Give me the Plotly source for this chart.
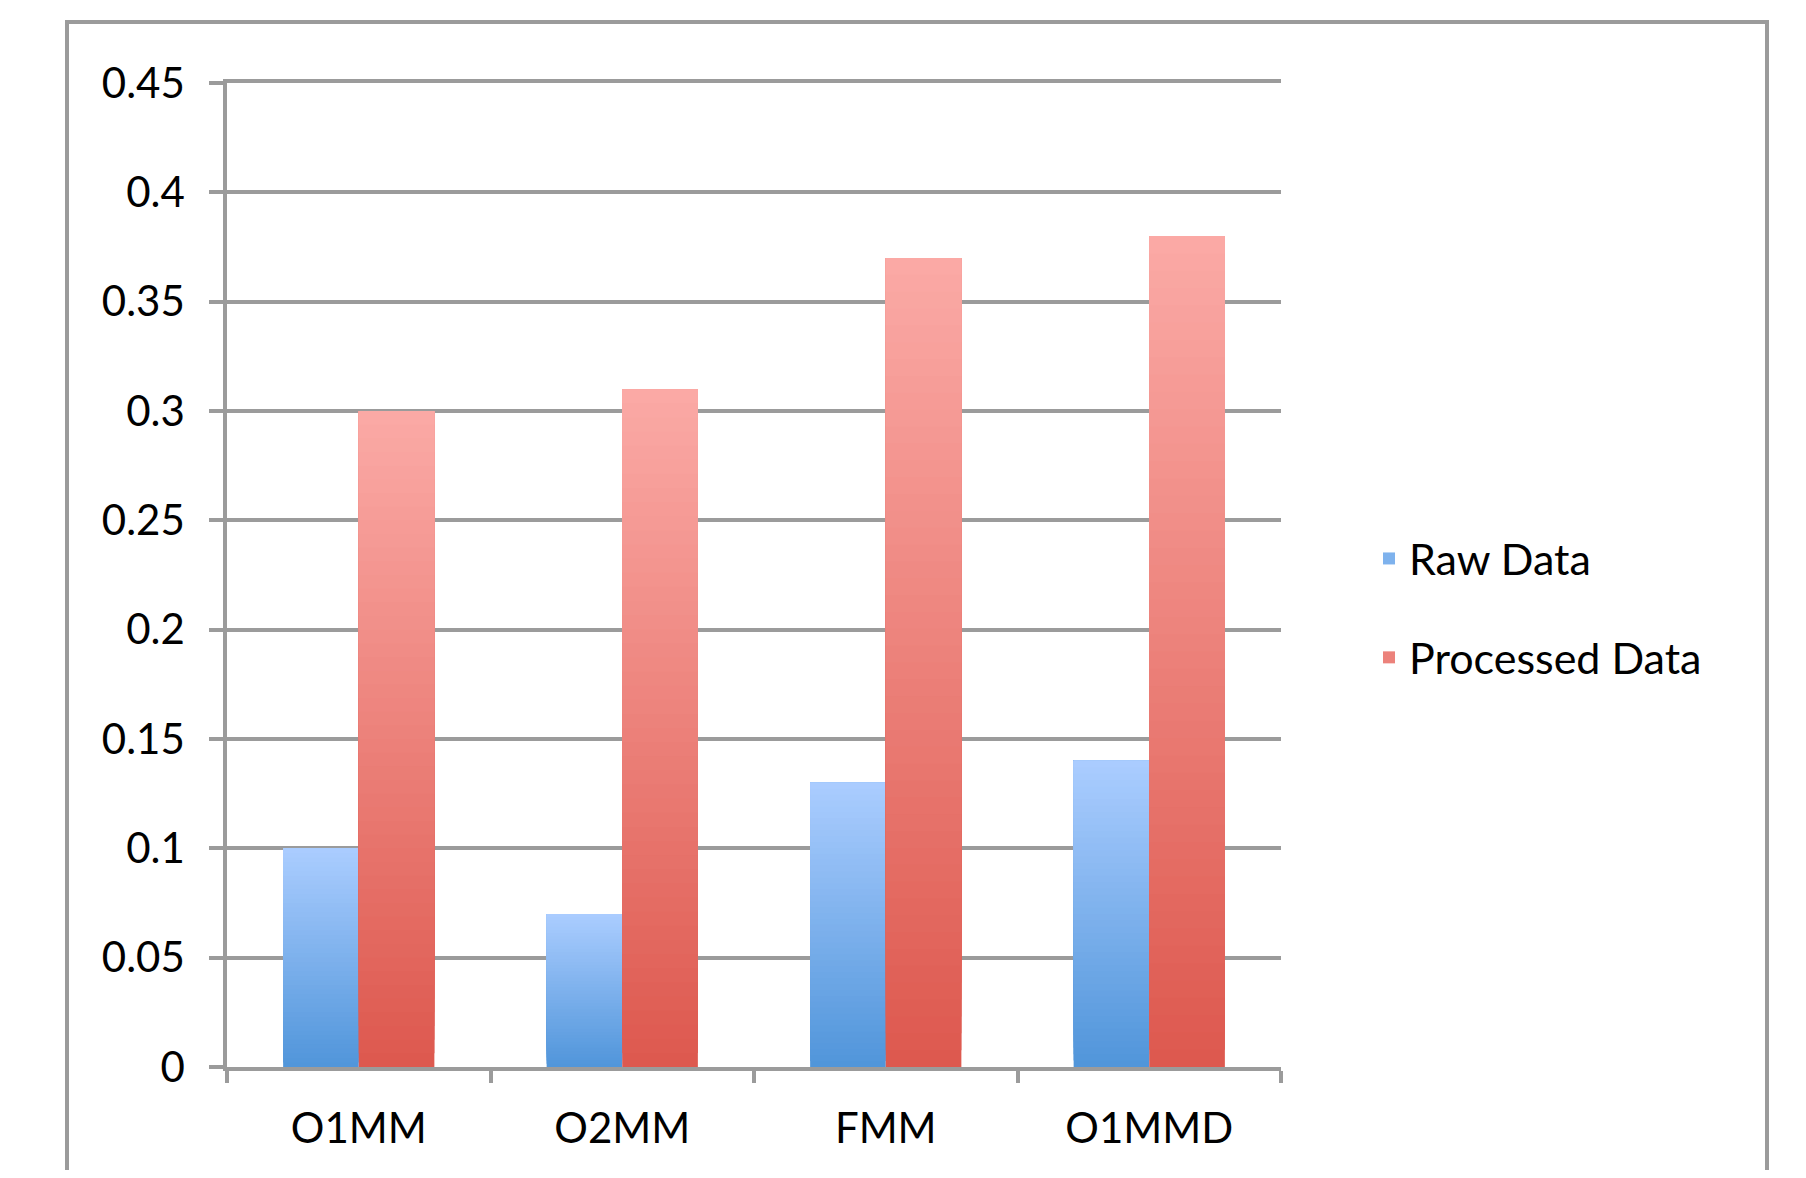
import plotly.graph_objects as go

categories = ["O1MM", "O2MM", "FMM", "O1MMD"]
raw_data = [0.10, 0.07, 0.13, 0.14]
processed_data = [0.30, 0.31, 0.37, 0.38]
series_names = ["Raw Data", "Processed Data"]
y_tick_values = [0, 0.05, 0.1, 0.15, 0.2, 0.25, 0.3, 0.35, 0.4, 0.45]

# gradient colours (bottom, top) per series
grad = {
    "Raw Data": ((80, 149, 218), (171, 205, 255)),
    "Processed Data": ((221, 88, 78), (251, 170, 166)),
}
N_SEG = 48
FONT = "Lato"
GREY = "#9b9b9b"


def lerp(c0, c1, t):
    return "rgb(%d,%d,%d)" % tuple(round(a + (b - a) * t) for a, b in zip(c0, c1))


fig = go.Figure()
for name, vals in zip(series_names, [raw_data, processed_data]):
    bottom, top = grad[name]
    for k in range(N_SEG):
        t = (k + 0.5) / N_SEG
        # each slice runs from its own base up to the bar's value, so later
        # (lighter) slices overlay earlier ones without seams
        bases = [v * k / N_SEG for v in vals]
        fig.add_trace(go.Bar(
            x=categories,
            y=[v - b for v, b in zip(vals, bases)],
            base=bases,
            name=name,
            legendgroup=name,
            offsetgroup=name,
            showlegend=(k == N_SEG // 2),
            marker=dict(color=lerp(bottom, top, t), line=dict(width=0)),
            customdata=vals,
            hovertemplate="%{x}: %{customdata}<extra>" + name + "</extra>",
        ))

# the page body has an 8px margin, so the figure is 16px smaller than the window
W, H = 1790, 1162
OFF = 8
ml, mr, mt, mb = 227 - OFF, W - (1281 - OFF), 83 - OFF, H - (1067 - OFF)
pw = W - ml - mr
ph = H - mt - mb


def px_x(px):  # window px -> paper
    return (px - OFF - ml) / pw


def px_y(py):
    return (H - mb - (py - OFF)) / ph


tick_font = dict(family=FONT, size=42, color="black")

fig.update_layout(
    width=W, height=H,
    margin=dict(l=ml, r=mr, t=mt, b=mb),
    paper_bgcolor="white", plot_bgcolor="white",
    barmode="group", bargap=0.426, bargroupgap=0,
    font=dict(family=FONT, size=42, color="black"),
    legend=dict(
        x=px_x(1369), y=px_y(608), xanchor="left", yanchor="middle",
        font=dict(family=FONT, size=43, color="black"),
        tracegroupgap=40, traceorder="grouped",
        bgcolor="rgba(0,0,0,0)",
    ),
    xaxis=dict(
        type="category",
        showline=True, linecolor=GREY, linewidth=3.5, mirror=True,
        ticks="outside", tickson="boundaries", ticklen=12, tickwidth=3.5, tickcolor=GREY,
        showgrid=False, ticklabelstandoff=22,
        tickfont=tick_font,
    ),
    yaxis=dict(
        range=[0, 0.45], tickvals=y_tick_values,
        showline=True, linecolor=GREY, linewidth=3.5,
        ticks="outside", ticklen=14, tickwidth=3.5, tickcolor=GREY,
        showgrid=True, gridcolor=GREY, gridwidth=3.5, zeroline=False,
        ticklabelstandoff=16,
        tickfont=tick_font,
    ),
    shapes=[dict(
        type="rect", xref="paper", yref="paper",
        x0=px_x(67), x1=px_x(1767), y0=px_y(1230), y1=px_y(22),
        line=dict(color=GREY, width=4), fillcolor="rgba(0,0,0,0)", layer="below",
    )],
)

fig.write_html("out.html")
